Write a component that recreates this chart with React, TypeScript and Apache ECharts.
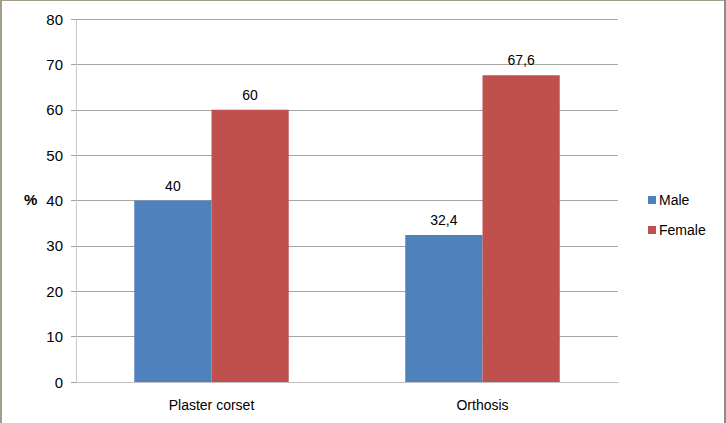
import React, { useEffect, useRef } from "react";
import * as echarts from "echarts";

const categories = ["Plaster corset", "Orthosis"];
const maleValues = [40, 32.4];
const femaleValues = [60, 67.6];
const seriesNames = ["Male", "Female"];
const yTicks = { min: 0, max: 80, interval: 10 };

const FONT = "'Liberation Sans', Arial, sans-serif";

export default function App() {
  const ref = useRef<HTMLDivElement>(null);
  useEffect(() => {
    document.body.style.margin = "0";
    if (!ref.current) return;
    const chart = echarts.init(ref.current, null, { renderer: "svg" });
    const fmt = (p: any) => String(p.value).replace(".", ",");
    chart.setOption({
      animation: false,
      backgroundColor: "#ffffff",
      textStyle: { fontFamily: FONT },
      grid: { left: 76, right: 108, top: 19, bottom: 41 },
      legend: {
        orient: "vertical",
        left: 643,
        top: 188,
        itemWidth: 8,
        itemHeight: 8,
        itemGap: 16,
        icon: "rect",
        textStyle: { fontFamily: FONT, fontSize: 14, color: "#000", padding: [0, 0, 0, -2] },
        data: seriesNames,
      },
      xAxis: {
        type: "category",
        data: categories,
        axisLine: { show: true, lineStyle: { color: "#bfbfbf", width: 1 } },
        axisTick: { show: false },
        axisLabel: { fontFamily: FONT, fontSize: 14, color: "#000", margin: 16 },
      },
      yAxis: {
        type: "value",
        min: yTicks.min,
        max: yTicks.max,
        interval: yTicks.interval,
        axisLine: { show: true, lineStyle: { color: "#c8c8c8", width: 1 } },
        axisTick: { show: true, length: 5, lineStyle: { color: "#a0a0a0" } },
        axisLabel: { fontFamily: FONT, fontSize: 15, color: "#000", margin: 13 },
        splitLine: { show: true, lineStyle: { color: "#a6a6a6", width: 1 } },
      },
      graphic: [
        {
          type: "text",
          left: 24,
          top: 192,
          style: { text: "%", font: `bold 15px ${FONT}`, fill: "#000" },
        },
        { type: "line", shape: { x1: 1, y1: 0, x2: 1, y2: 423 }, style: { stroke: "#a39d8c", lineWidth: 2 } },
        { type: "line", shape: { x1: 0, y1: 0.5, x2: 726, y2: 0.5 }, style: { stroke: "#a39d8c", lineWidth: 1 } },
        { type: "line", shape: { x1: 725, y1: 0, x2: 725, y2: 423 }, style: { stroke: "#8c8c8c", lineWidth: 2 } },
      ],
      series: [
        {
          name: seriesNames[0],
          type: "bar",
          data: maleValues,
          barGap: "0%",
          barCategoryGap: "43%",
          itemStyle: { color: "#4f81bd" },
          label: { show: true, position: "top", distance: 8, fontSize: 14, color: "#000", fontFamily: FONT, formatter: fmt },
        },
        {
          name: seriesNames[1],
          type: "bar",
          data: femaleValues,
          barGap: "0%",
          barCategoryGap: "43%",
          itemStyle: { color: "#c0504d" },
          label: { show: true, position: "top", distance: 8, fontSize: 14, color: "#000", fontFamily: FONT, formatter: fmt },
        },
      ],
    });
    return () => chart.dispose();
  }, []);
  return <div ref={ref} style={{ width: 726, height: 423 }} />;
}
